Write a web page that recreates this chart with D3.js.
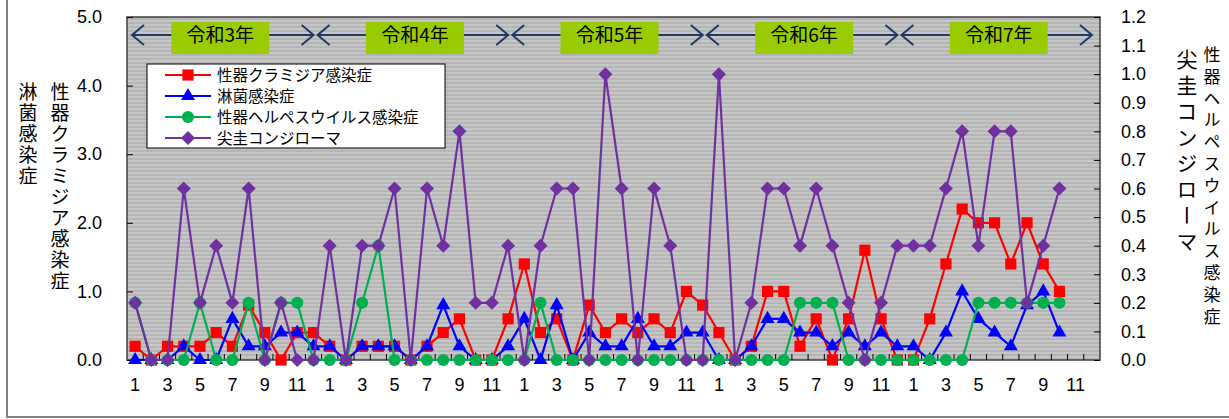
<!DOCTYPE html>
<html>
<head>
<meta charset="utf-8">
<script src="https://cdn.jsdelivr.net/npm/d3@7"></script>
<style>
  body { margin: 0; background: #fff; }
  svg { display: block; }
  text { font-family: "Liberation Sans", "Noto Sans CJK JP", sans-serif; }
  .jp { font-family: "Noto Sans CJK JP", sans-serif; }
</style>
</head>
<body>
<div id="chart"></div>
<script>
// month slots: 令和3年1月 .. 令和7年12月 (data ends 令和7年10月)
const years = ["令和3年", "令和4年", "令和5年", "令和6年", "令和7年"];
const monthLabels = ["1", "", "3", "", "5", "", "7", "", "9", "", "11", ""];

// left axis
const chlamydia = [
  0.2, 0, 0.2, 0.2, 0.2, 0.4, 0.2, 0.8, 0.4, 0, 0.4, 0.4,
  0.2, 0, 0.2, 0.2, 0.2, 0, 0.2, 0.4, 0.6, 0, 0, 0.6,
  1.4, 0.4, 0.6, 0, 0.8, 0.4, 0.6, 0.4, 0.6, 0.4, 1.0, 0.8,
  0.4, 0, 0.2, 1.0, 1.0, 0.2, 0.6, 0, 0.6, 1.6, 0.6, 0,
  0, 0.6, 1.4, 2.2, 2.0, 2.0, 1.4, 2.0, 1.4, 1.0
];
const gonorrhea = [
  0, 0, 0, 0.2, 0, 0, 0.6, 0.2, 0.2, 0.4, 0.4, 0.2,
  0.2, 0, 0.2, 0.2, 0.2, 0, 0.2, 0.8, 0.2, 0, 0, 0.2,
  0.6, 0, 0.8, 0, 0.4, 0.2, 0.2, 0.6, 0.2, 0.2, 0.4, 0.4,
  0, 0, 0.2, 0.6, 0.6, 0.4, 0.4, 0.2, 0.4, 0.2, 0.4, 0.2,
  0.2, 0, 0.4, 1.0, 0.6, 0.4, 0.2, 0.8, 1.0, 0.4
];
// right axis
const herpes = [
  0.2, 0, 0, 0, 0.2, 0, 0, 0.2, 0, 0.2, 0.2, 0,
  0, 0, 0.2, 0.4, 0, 0, 0, 0, 0, 0, 0, 0,
  0, 0.2, 0, 0, 0, 0, 0, 0, 0, 0, 0, 0,
  0, 0, 0, 0, 0, 0.2, 0.2, 0.2, 0, 0, 0, 0,
  0, 0, 0, 0, 0.2, 0.2, 0.2, 0.2, 0.2, 0.2
];
const condyloma = [
  0.2, 0, 0, 0.6, 0.2, 0.4, 0.2, 0.6, 0, 0.2, 0, 0,
  0.4, 0, 0.4, 0.4, 0.6, 0, 0.6, 0.4, 0.8, 0.2, 0.2, 0.4,
  0, 0.4, 0.6, 0.6, 0, 1.0, 0.6, 0, 0.6, 0.4, 0, 0,
  1.0, 0, 0.2, 0.6, 0.6, 0.4, 0.6, 0.4, 0.2, 0, 0.2, 0.4,
  0.4, 0.4, 0.6, 0.8, 0.4, 0.8, 0.8, 0.2, 0.4, 0.6
];

const leftTicks = [0, 1, 2, 3, 4, 5];
const rightTicks = [0, 0.1, 0.2, 0.3, 0.4, 0.5, 0.6, 0.7, 0.8, 0.9, 1.0, 1.1, 1.2];

// square rotated 45deg (wider than d3's symbolDiamond)
const fatDiamond = {
  draw(ctx, size) {
    const r = Math.sqrt(size / 2);
    ctx.moveTo(0, -r); ctx.lineTo(r, 0); ctx.lineTo(0, r); ctx.lineTo(-r, 0); ctx.closePath();
  }
};

const series = [
  { name: "性器クラミジア感染症", values: chlamydia, axis: "L", color: "#ff0000", symbol: d3.symbolSquare, size: 125 },
  { name: "淋菌感染症", values: gonorrhea, axis: "L", color: "#0000ff", symbol: d3.symbolTriangle, size: 85 },
  { name: "性器ヘルペスウイルス感染症", values: herpes, axis: "R", color: "#00b050", symbol: d3.symbolCircle, size: 115 },
  { name: "尖圭コンジローマ", values: condyloma, axis: "R", color: "#7030a0", symbol: fatDiamond, size: 98 }
];

const W = 1229, H = 419;
const plot = { left: 127, right: 1100, top: 17, bottom: 360 };

const svg = d3.select("#chart").append("svg")
  .attr("width", W).attr("height", H);

// outer frame
svg.append("rect")
  .attr("x", 7).attr("y", -3).attr("width", W + 10).attr("height", 420)
  .attr("fill", "none").attr("stroke", "#808080").attr("stroke-width", 2);

// striped gray background
const pat = svg.append("defs").append("pattern")
  .attr("id", "stripes").attr("patternUnits", "userSpaceOnUse")
  .attr("width", 8).attr("height", 4);
pat.append("rect").attr("width", 8).attr("height", 4).attr("fill", "#c6c6c6");
pat.append("rect").attr("y", 2).attr("width", 8).attr("height", 2).attr("fill", "#b5b5b5");

const slots = d3.range(years.length * 12);
const x = d3.scaleBand(slots, [plot.left, plot.right]);
const yL = d3.scaleLinear([0, 5], [plot.bottom, plot.top]);
const yR = d3.scaleLinear([0, 1.2], [plot.bottom, plot.top]);
const cx = i => x(i) + x.bandwidth() / 2;

svg.append("rect")
  .attr("x", plot.left).attr("y", plot.top)
  .attr("width", plot.right - plot.left).attr("height", plot.bottom - plot.top)
  .attr("fill", "url(#stripes)");

// year arrows + boxes
const arrowColor = "#1f3864";
const yearG = svg.append("g");
years.forEach((yr, k) => {
  const start = x(k * 12);
  const end = k === years.length - 1 ? plot.right : x(k * 12 + 12);
  const mid = (start + end) / 2 - 4;
  const ay = 35;
  const lt = Math.max(start - 4, plot.left + 5);
  const rt = end - 8;
  const bw = 98, bh = 32;
  yearG.append("line").attr("x1", lt).attr("x2", rt).attr("y1", ay).attr("y2", ay)
    .attr("stroke", arrowColor).attr("stroke-width", 2);
  yearG.append("path")
    .attr("d", `M${lt + 12},${ay - 10}L${lt},${ay}L${lt + 12},${ay + 10}M${rt - 12},${ay - 10}L${rt},${ay}L${rt - 12},${ay + 10}`)
    .attr("fill", "none").attr("stroke", arrowColor).attr("stroke-width", 2);
  yearG.append("rect")
    .attr("x", mid - bw / 2).attr("y", 22).attr("width", bw).attr("height", bh)
    .attr("fill", "#99cc00");
  yearG.append("text").attr("class", "jp")
    .attr("x", mid).attr("y", ay + 7)
    .attr("text-anchor", "middle").attr("font-size", 19).attr("fill", "#000")
    .text(yr);
});

// plot frame
svg.append("rect")
  .attr("x", plot.left).attr("y", plot.top)
  .attr("width", plot.right - plot.left).attr("height", plot.bottom - plot.top)
  .attr("fill", "none").attr("stroke", "#404040").attr("stroke-width", 1.5);

// x ticks (inward, at month boundaries)
svg.append("g").selectAll("line")
  .data(slots.slice(1))
  .join("line")
  .attr("x1", d => x(d)).attr("x2", d => x(d))
  .attr("y1", plot.bottom).attr("y2", plot.bottom - 6)
  .attr("stroke", "#000").attr("stroke-width", 1);

// x labels
const xAxis = d3.axisBottom(x).tickSize(0).tickPadding(18)
  .tickFormat(d => monthLabels[d % 12]);
svg.append("g")
  .attr("transform", `translate(0,${plot.bottom})`)
  .call(xAxis)
  .call(g => g.select(".domain").remove())
  .selectAll("text").attr("font-size", 18).attr("fill", "#000")
  .attr("font-family", "Liberation Sans, sans-serif");

// left axis
svg.append("g")
  .attr("transform", `translate(${plot.left},0)`)
  .call(d3.axisLeft(yL).tickValues(leftTicks).tickFormat(d3.format(".1f"))
    .tickSizeInner(-6).tickSizeOuter(0).tickPadding(25))
  .call(g => g.select(".domain").remove())
  .call(g => g.selectAll("line").attr("stroke", "#000"))
  .selectAll("text").attr("font-size", 18).attr("fill", "#000")
  .attr("font-family", "Liberation Sans, sans-serif");

// right axis
svg.append("g")
  .attr("transform", `translate(${plot.right},0)`)
  .call(d3.axisRight(yR).tickValues(rightTicks).tickFormat(d3.format(".1f"))
    .tickSizeInner(-6).tickSizeOuter(0).tickPadding(21))
  .call(g => g.select(".domain").remove())
  .call(g => g.selectAll("line").attr("stroke", "#000"))
  .selectAll("text").attr("font-size", 18).attr("fill", "#000")
  .attr("font-family", "Liberation Sans, sans-serif");

// series
series.forEach(s => {
  const ys = s.axis === "L" ? yL : yR;
  const line = d3.line().x((d, i) => cx(i)).y(d => ys(d));
  const g = svg.append("g");
  g.append("path")
    .datum(s.values)
    .attr("d", line)
    .attr("fill", "none").attr("stroke", s.color).attr("stroke-width", 2.2);
  g.selectAll("path.mark")
    .data(s.values)
    .join("path")
    .attr("class", "mark")
    .attr("transform", (d, i) => `translate(${cx(i)},${ys(d)})`)
    .attr("d", d3.symbol(s.symbol, s.size))
    .attr("fill", s.color);
});

// legend
const lg = svg.append("g");
lg.append("rect")
  .attr("x", 147).attr("y", 64).attr("width", 298).attr("height", 84)
  .attr("fill", "#fff").attr("stroke", "#000").attr("stroke-width", 1);
series.forEach((s, i) => {
  const ly = 75 + i * 21;
  lg.append("line").attr("x1", 165).attr("x2", 211).attr("y1", ly).attr("y2", ly)
    .attr("stroke", s.color).attr("stroke-width", 2.2);
  lg.append("path")
    .attr("transform", `translate(188,${ly})`)
    .attr("d", d3.symbol(s.symbol, s.size))
    .attr("fill", s.color);
  lg.append("text").attr("class", "jp")
    .attr("x", 217).attr("y", ly + 5.5)
    .attr("font-size", 15.5).attr("fill", "#000")
    .text(s.name);
});

// vertical axis titles
function vtext(txt, xx, yy, size, spacing) {
  svg.append("text").attr("class", "jp")
    .attr("x", xx).attr("y", yy)
    .style("writing-mode", "vertical-rl")
    .style("letter-spacing", spacing + "px")
    .attr("font-size", size).attr("fill", "#000")
    .text(txt);
}
vtext("淋菌感染症", 28, 82, 19, 2);
vtext("性器クラミジア感染症", 60, 82, 19, 2);
vtext("尖圭コンジローマ", 1187, 49, 21, 5);
vtext("性器ヘルペスウイルス感染症", 1212, 46, 17, 4.8);
</script>
</body>
</html>
